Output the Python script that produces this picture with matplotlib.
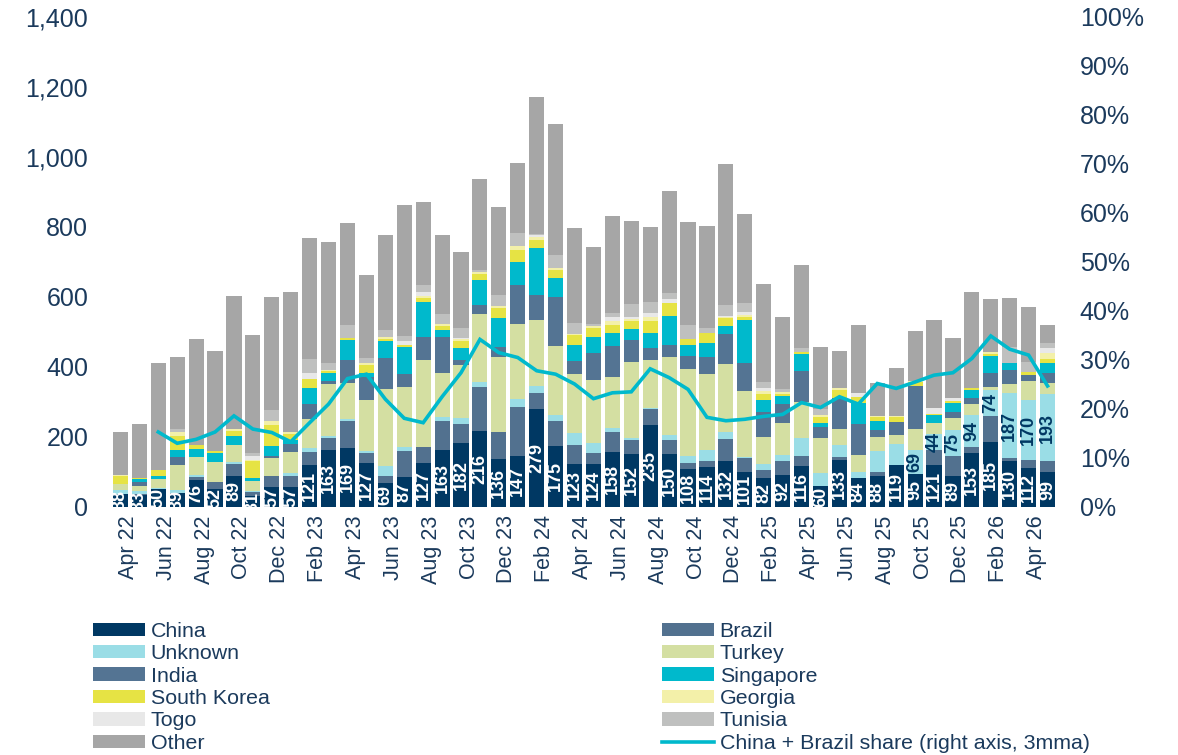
import numpy as np
import pandas as pd
import matplotlib
matplotlib.use('Agg')
from matplotlib import pyplot as plt
from matplotlib import font_manager as fm
from matplotlib import transforms
from matplotlib.patches import Patch
from matplotlib.lines import Line2D
from matplotlib.ticker import PercentFormatter, FuncFormatter

months = list(pd.date_range('2022-04-01', periods=50, freq='MS').strftime('%b %y'))

china = [38, 33, 50, 39, 76, 52, 89, 31, 57, 57, 121, 163, 169, 127, 69, 87, 127, 163, 182, 216,
         136, 147, 279, 175, 123, 124, 158, 152, 235, 150, 108, 114, 132, 101, 82, 92, 116, 60, 133, 84,
         88, 119, 95, 121, 89, 153, 185, 130, 112, 99]
brazil = [0, 5, 0, 0, 11, 19, 33, 11, 31, 31, 37, 34, 77, 26, 20, 74, 43, 83, 54, 128,
          77, 139, 46, 71, 54, 31, 57, 40, 46, 40, 17, 17, 63, 40, 23, 40, 31, 0, 9, 0,
          11, 0, 0, 43, 57, 17, 76, 9, 23, 31]
unknown = [10, 9, 5, 9, 4, 0, 7, 5, 0, 10, 11, 6, 6, 6, 28, 11, 0, 11, 17, 14,
           0, 23, 20, 17, 34, 28, 11, 6, 3, 17, 20, 31, 20, 3, 17, 17, 51, 37, 34, 17,
           60, 60, 69, 44, 75, 94, 74, 187, 170, 193]
turkey = [17, 12, 24, 72, 51, 57, 47, 28, 51, 60, 83, 148, 102, 148, 219, 171, 250, 125, 154, 194,
          216, 213, 188, 196, 168, 179, 145, 216, 137, 222, 248, 219, 194, 188, 77, 91, 102, 100, 48, 48,
          40, 28, 60, 31, 34, 31, 9, 26, 54, 31]
india = [0, 11, 0, 23, 0, 0, 0, 0, 8, 22, 43, 9, 65, 65, 91, 37, 65, 105, 14, 26,
         28, 111, 74, 142, 37, 77, 88, 63, 34, 34, 37, 48, 85, 80, 71, 54, 88, 31, 88, 88,
         20, 37, 122, 0, 17, 17, 40, 40, 17, 28]
singapore = [0, 10, 9, 20, 24, 27, 28, 9, 28, 10, 46, 23, 57, 11, 46, 77, 100, 20, 34, 71,
             83, 68, 134, 54, 46, 46, 37, 31, 43, 83, 34, 40, 23, 122, 37, 23, 48, 11, 0, 60,
             28, 0, 0, 23, 26, 23, 48, 20, 0, 28]
south_korea = [24, 3, 17, 40, 12, 6, 14, 46, 60, 18, 26, 6, 6, 23, 6, 6, 11, 11, 20, 17,
               28, 34, 23, 23, 28, 26, 24, 23, 34, 38, 17, 27, 24, 9, 17, 6, 6, 17, 23, 17,
               11, 12, 11, 3, 6, 6, 6, 0, 11, 14]
georgia = [3, 0, 0, 11, 0, 0, 5, 5, 11, 6, 0, 3, 0, 6, 6, 0, 6, 6, 6, 6,
           6, 11, 6, 6, 3, 6, 11, 6, 11, 0, 0, 0, 3, 6, 6, 6, 0, 6, 6, 0,
           3, 3, 3, 0, 0, 0, 6, 0, 0, 17]
togo = [0, 0, 0, 0, 0, 0, 0, 11, 0, 0, 17, 0, 0, 0, 0, 11, 11, 0, 3, 0,
        0, 0, 6, 0, 0, 0, 11, 6, 11, 11, 0, 0, 3, 9, 11, 0, 0, 0, 0, 11,
        0, 0, 0, 17, 6, 0, 0, 0, 0, 14]
tunisia = [0, 0, 0, 8, 0, 0, 0, 9, 31, 0, 40, 20, 37, 14, 20, 14, 20, 28, 26, 6,
           31, 37, 3, 37, 34, 6, 13, 38, 32, 17, 38, 16, 30, 25, 17, 9, 11, 17, 0, 0,
           0, 0, 0, 0, 0, 0, 0, 46, 28, 14]
other = [122, 153, 306, 206, 303, 285, 380, 336, 324, 399, 345, 345, 291, 236, 271, 374, 237, 225, 219, 259,
         253, 200, 391, 373, 271, 220, 276, 236, 214, 290, 296, 291, 402, 254, 280, 206, 237, 178, 106, 195,
         92, 137, 143, 251, 172, 274, 149, 140, 155, 50]

# China + Brazil share, 3mma, starts Jun 22
share = [15.3, 13.0, 13.8, 15.3, 18.6, 15.9, 15.2, 13.3, 17.2, 21.0,
         26.2, 27.1, 22.0, 18.1, 17.2, 22.5, 27.4, 34.2, 31.5, 30.5,
         27.8, 27.1, 25.1, 22.1, 23.3, 23.5, 28.2, 26.4, 24.0, 18.3,
         17.6, 17.9, 18.5, 18.9, 21.3, 20.3, 22.5, 21.0, 25.2, 24.2,
         25.5, 26.9, 27.4, 30.3, 34.9, 32.2, 31.0, 24.7]

series = [
    ('China', china, '#003863'),
    ('Brazil', brazil, '#52718F'),
    ('Unknown', unknown, '#9ADDE6'),
    ('Turkey', turkey, '#D4DFA2'),
    ('India', india, '#547493'),
    ('Singapore', singapore, '#00B9CC'),
    ('South Korea', south_korea, '#E6E344'),
    ('Georgia', georgia, '#F3F0A9'),
    ('Togo', togo, '#E8E8E8'),
    ('Tunisia', tunisia, '#BFC0BF'),
    ('Other', other, '#A6A6A6'),
]
line_color = '#00B9CC'
txt_color = '#1B3A5C'

plt.rcParams['font.family'] = ['Liberation Sans', 'DejaVu Sans']
installed = {f.name for f in fm.fontManager.ttflist}
lbl_family = 'Liberation Sans Narrow' if 'Liberation Sans Narrow' in installed else 'Liberation Sans'

fig = plt.figure(figsize=(11.78, 7.55), dpi=100)
ax = fig.add_axes([0.0902, 0.3285, 0.8111, 0.649])

x = np.arange(len(months))
bottom = np.zeros(len(months))
containers = {}
for name, vals, col in series:
    vals = np.array(vals, dtype=float)
    containers[name] = ax.bar(x, vals, 0.8, bottom=bottom, color=col, linewidth=0)
    bottom += vals

ax.bar_label(containers['China'], labels=[str(v) for v in china], label_type='center',
             rotation=90, color='white', fontsize=13, fontweight='bold', family=lbl_family,
             clip_on=True)
ax.bar_label(containers['Unknown'], labels=[str(v) if i >= 42 else '' for i, v in enumerate(unknown)],
             label_type='center', rotation=90, color='#003863', fontsize=13, fontweight='bold',
             family=lbl_family, clip_on=True)

ax.set_xlim(-0.75, len(months) - 0.25)
ax.set_ylim(0, 1400)
ax.set_yticks(np.arange(0, 1401, 200))
ax.yaxis.set_major_formatter(FuncFormatter(lambda v, p: f'{v:,.0f}'))
ax.set_xticks(x[::2])
ax.set_xticklabels(months[::2], rotation=90)
ax.tick_params(axis='x', length=0, pad=6, labelsize=15.5, labelcolor=txt_color)
ax.tick_params(axis='y', length=0, pad=13, labelsize=18, labelcolor=txt_color)
shift = transforms.ScaledTranslation(0.08, 0, fig.dpi_scale_trans)
for lab in ax.get_xticklabels():
    lab.set_transform(lab.get_transform() + shift)
for s in ax.spines.values():
    s.set_visible(False)

ax2 = ax.twinx()
ax2.plot(x[2:], np.array(share) / 100, color=line_color, lw=2.6, solid_joinstyle='miter')
ax2.set_ylim(0, 1)
ax2.set_yticks(np.arange(0, 1.01, 0.1))
ax2.yaxis.set_major_formatter(PercentFormatter(1, decimals=0))
ax2.tick_params(axis='y', length=0, pad=13, labelsize=18, labelcolor=txt_color)
for s in ax2.spines.values():
    s.set_visible(False)

patches = {name: Patch(facecolor=col, linewidth=0) for name, _, col in series}
line_h = Line2D([], [], color=line_color, lw=2.6)
left_col = ['China', 'Unknown', 'India', 'South Korea', 'Togo', 'Other']
right_col = ['Brazil', 'Turkey', 'Singapore', 'Georgia', 'Tunisia']
handles = [patches[n] for n in left_col] + [patches[n] for n in right_col] + [line_h]
labels = left_col + right_col + ['China + Brazil share (right axis, 3mma)']
leg = fig.legend(handles, labels, ncol=2, loc='upper left', mode='expand',
                 bbox_to_anchor=(0.079, 0.0, 0.846, 0.1765), frameon=False,
                 fontsize=15.4, labelspacing=0.16, handlelength=2.45, handleheight=0.58,
                 handletextpad=0.25, borderpad=0, borderaxespad=0)
for t in leg.get_texts():
    t.set_color(txt_color)

fig.savefig('out.png', dpi=100)
